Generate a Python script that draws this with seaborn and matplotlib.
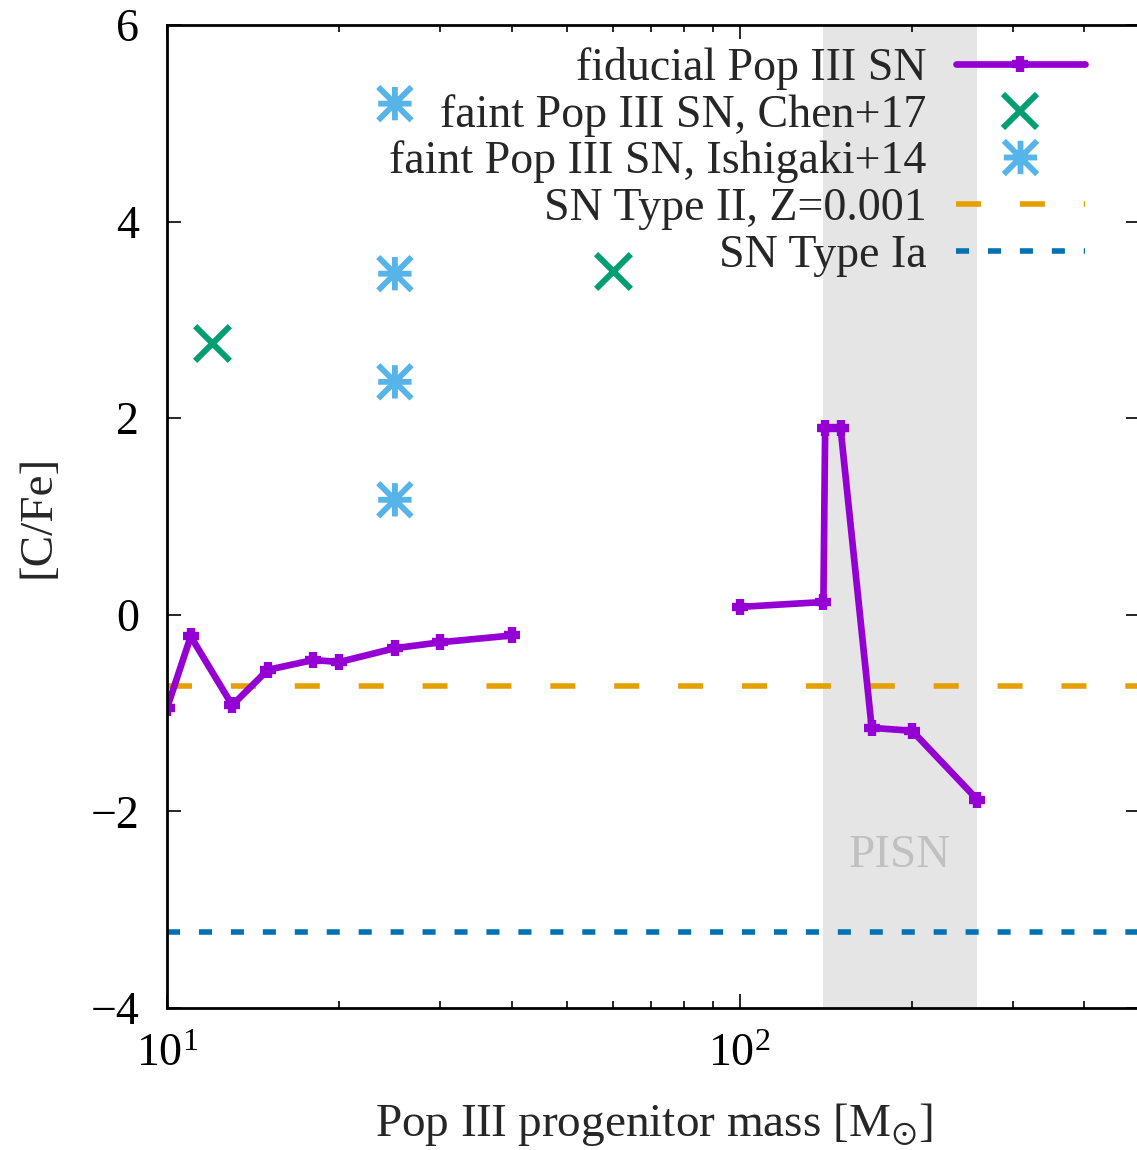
import numpy as np
import pandas as pd
import matplotlib
matplotlib.use("Agg")
import matplotlib.pyplot as plt
from matplotlib.path import Path
from matplotlib.lines import Line2D
from matplotlib.ticker import LogLocator, LogFormatterSciNotation, NullFormatter
import seaborn as sns

# fiducial Pop III SN yields, split into two mass ranges
fid_low_mass = [10, 11, 13, 15, 18, 20, 25, 30, 40]
fid_low_cfe = [-0.95, -0.22, -0.92, -0.56, -0.46, -0.48, -0.34, -0.28, -0.21]
fid_high_mass = [100, 140, 141, 150, 170, 200, 260]
fid_high_cfe = [0.08, 0.13, 1.90, 1.90, -1.15, -1.18, -1.88]

# faint Pop III SN
chen_mass = [12, 60]
chen_cfe = [2.76, 3.50]
ishigaki_mass = [25, 25, 25, 25]
ishigaki_cfe = [5.20, 3.47, 2.37, 1.17]

sn2_cfe = -0.72
sn1a_cfe = -3.23
pisn_range = (140, 260)

labels = ["fiducial Pop III SN", "faint Pop III SN, Chen+17",
          "faint Pop III SN, Ishigaki+14", "SN Type II, Z=0.001", "SN Type Ia"]

purple = "#9400d3"
green = "#009e73"
skyblue = "#56b4e9"
orange = "#e69f00"
blue = "#0072b2"

sns.set_style("ticks")
plt.rcParams["font.family"] = ["Liberation Serif", "DejaVu Serif"]
plt.rcParams["mathtext.fontset"] = "stix"
plt.rcParams["font.size"] = 33

# gnuplot-like asterisk (plus + cross)
star = Path([(-1, -1), (1, 1), (-1, 1), (1, -1), (0, -1), (0, 1), (-1, 0), (1, 0)],
            [Path.MOVETO, Path.LINETO] * 4)

fig = plt.figure(figsize=(11.37, 11.5), dpi=100)
ax = fig.add_axes([167 / 1137, 142 / 1150, 973 / 1137, 983 / 1150])

ax.axvspan(*pisn_range, color="#e5e5e5", lw=0, zorder=0)
ax.text(190, -2.57, "PISN", color="#c0c0c0", ha="center", va="baseline", fontsize=34)

line_kw = dict(color=purple, lw=4.8, marker="+", ms=12, mew=6, mec=purple,
               sort=False, estimator=None, legend=False)
sns.lineplot(x=fid_low_mass, y=fid_low_cfe, ax=ax, **line_kw)
sns.lineplot(x=fid_high_mass, y=fid_high_cfe, ax=ax, **line_kw)

ax.axhline(sn2_cfe, color=orange, lw=4, dashes=(4.5, 7.0), zorder=1)
ax.axhline(sn1a_cfe, color=blue, lw=4, dashes=(2.35, 3.4), zorder=1)

sns.scatterplot(x=chen_mass, y=chen_cfe, ax=ax, marker="x", s=25 ** 2,
                color=green, linewidth=4.3, legend=False, zorder=3)
sns.scatterplot(x=ishigaki_mass, y=ishigaki_cfe, ax=ax, marker=star, s=24 ** 2,
                facecolor="none", edgecolor=skyblue, linewidth=4.2, legend=False, zorder=3)

ax.set_xscale("log")
ax.set_xlim(10, 500)
ax.set_ylim(-4, 6)
ax.set_yticks([-4, -2, 0, 2, 4, 6])
ax.xaxis.set_major_locator(LogLocator(base=10))
ax.xaxis.set_major_formatter(LogFormatterSciNotation())
ax.xaxis.set_minor_locator(LogLocator(base=10, subs=np.arange(2, 10)))
ax.xaxis.set_minor_formatter(NullFormatter())

ax.tick_params(which="both", direction="in", top=True, right=True, width=1.2,
               colors="black", labelsize=33)
ax.tick_params(which="major", length=10)
ax.tick_params(which="minor", length=5)
ax.tick_params(axis="y", pad=20)
ax.tick_params(axis="x", pad=18)
for sp in ax.spines.values():
    sp.set_linewidth(2)
    sp.set_color("black")

ax.set_xlabel(r"Pop III progenitor mass [M$_{\odot}$]", fontsize=34, labelpad=18)
ax.set_ylabel("[C/Fe]", fontsize=34, labelpad=22)

handles = [
    Line2D([0], [0], color=purple, lw=4.8, marker="+", ms=12, mew=6),
    Line2D([0], [0], ls="none", marker="x", ms=25, mew=4.3, color=green),
    Line2D([0], [0], ls="none", marker=star, ms=24, mew=4.2, color=skyblue, mfc="none"),
    Line2D([0], [0], color=orange, lw=4, dashes=(4.5, 7.0)),
    Line2D([0], [0], color=blue, lw=4, dashes=(2.35, 3.4)),
]
ax.legend(handles, labels, loc="upper right", bbox_to_anchor=(0.943, 0.978),
          frameon=False, markerfirst=False, numpoints=1, handlelength=2.8,
          handletextpad=0.65, labelspacing=0.09, borderpad=0, borderaxespad=0,
          fontsize=33)

fig.savefig("out.png", dpi=100)
